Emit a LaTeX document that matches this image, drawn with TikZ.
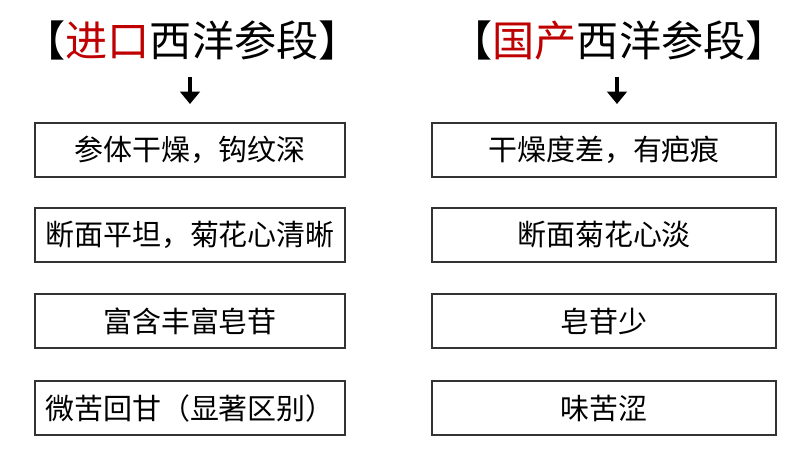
\documentclass[tikz,border=0pt]{standalone}
\usepackage{fontspec}
\setmainfont{Noto Sans CJK SC}
\usetikzlibrary{arrows.meta,positioning}
\colorlet{titleRed}{red!75!black}
\tikzset{box/.style={draw=black!80,line width=0.9pt,minimum height=1.08cm,
  inner sep=0pt,font=\fontsize{16.5}{19}\selectfont},
  lbox/.style={box,minimum width=6.2cm},
  rbox/.style={box,minimum width=6.88cm},
  ttl/.style={font=\fontsize{24}{28}\selectfont},
  dn/.style={line width=2.6pt,-{Triangle[length=7pt,width=11pt]}}}
\begin{document}
\begin{tikzpicture}[x=0.02cm,y=-0.02cm]
  \useasboundingbox (0,0) rectangle (800,451);

  \node[ttl] (tl) at (192,40) {【\textcolor{titleRed}{进口}西洋参段】};
  \node[ttl] (tr) at (619,40) {【\textcolor{titleRed}{国产}西洋参段】};

  \coordinate (al1) at (190,77);
  \coordinate (al2) at (190,104);
  \coordinate (ar1) at (617,77);
  \coordinate (ar2) at (617,104);
  \draw[dn] (al1) -- (al2);
  \draw[dn] (ar1) -- (ar2);

  \node[lbox] (l1) at (190,150) {参体干燥，钩纹深};
  \node[lbox] (l2) at (190,235) {断面平坦，菊花心清晰};
  \node[lbox] (l3) at (190,321) {富含丰富皂苷};
  \node[lbox] (l4) at (190,408) {微苦回甘（显著区别）};

  \node[rbox] (r1) at (604,150) {干燥度差，有疤痕};
  \node[rbox] (r2) at (604,235) {断面菊花心淡};
  \node[rbox] (r3) at (604,321) {皂苷少};
  \node[rbox] (r4) at (604,408) {味苦涩};
\end{tikzpicture}
\end{document}
